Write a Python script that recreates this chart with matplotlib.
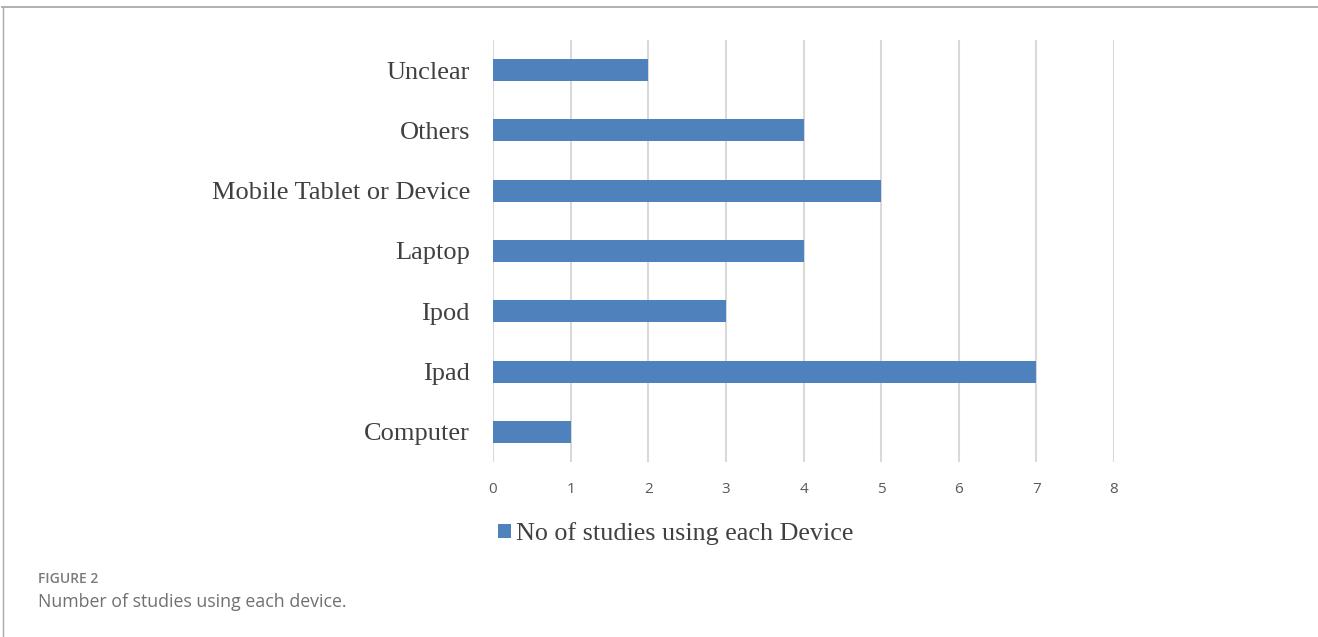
import matplotlib
matplotlib.use("Agg")
import matplotlib.pyplot as plt
from matplotlib.patches import Patch
from matplotlib.lines import Line2D

categories = ["Computer", "Ipad", "Ipod", "Laptop", "Mobile Tablet or Device", "Others", "Unclear"]
values = [1, 7, 3, 4, 5, 4, 2]
xticks = [0, 1, 2, 3, 4, 5, 6, 7, 8]
series_name = "No of studies using each Device"

W, H = 1318, 637
fig = plt.figure(figsize=(W / 100, H / 100), dpi=100)
fig.patch.set_facecolor("white")

ax = fig.add_axes([493 / W, 1 - 462 / H, (1114 - 493) / W, (462 - 40) / H])
bar_color = "#4F81BD"
ax.barh(range(len(categories)), values, height=0.365, color=bar_color, zorder=3)
ax.set_xlim(0, 8)
ax.set_ylim(-0.5, 6.5)
ax.set_xticks(xticks)
ax.set_xticklabels([str(t) for t in xticks], fontsize=11, color="#595959", family="Open Sans")
ax.set_yticks(range(len(categories)))
ax.set_yticklabels(categories, fontsize=19, color="#404040", family="Liberation Serif")
ax.tick_params(axis="both", length=0)
ax.tick_params(axis="y", pad=16.5)
ax.tick_params(axis="x", pad=14.5)
ax.grid(axis="x", color="#D9D9D9", linewidth=1.5, zorder=0)
for s in ax.spines.values():
    s.set_visible(False)

# legend
handle = Patch(facecolor=bar_color, edgecolor="none")
fig.legend([handle], [series_name], loc="center left",
           bbox_to_anchor=(488 / W, 1 - 534 / H), frameon=False,
           prop={"family": "Liberation Serif", "size": 18.8},
           labelcolor="#404040", handlelength=0.48, handleheight=0.48,
           handletextpad=0.2, borderaxespad=0)

# frame lines
fig.add_artist(Line2D([2 / W, 1], [1 - 7 / H, 1 - 7 / H], transform=fig.transFigure,
                      color="#AAAAAA", linewidth=1.3))
fig.add_artist(Line2D([3 / W, 3 / W], [0, 1 - 7 / H], transform=fig.transFigure,
                      color="#AAAAAA", linewidth=1.0))

# caption
fig.text(38 / W, 1 - 579 / H, "FIGURE 2", fontsize=10, color="#7a7a7a",
         family="Open Sans", weight="semibold", va="center")
fig.text(38 / W, 1 - 602 / H, "Number of studies using each device.", fontsize=12.8,
         color="#707070", family="Open Sans", va="center")

fig.savefig("out.png", dpi=100, facecolor="white")
